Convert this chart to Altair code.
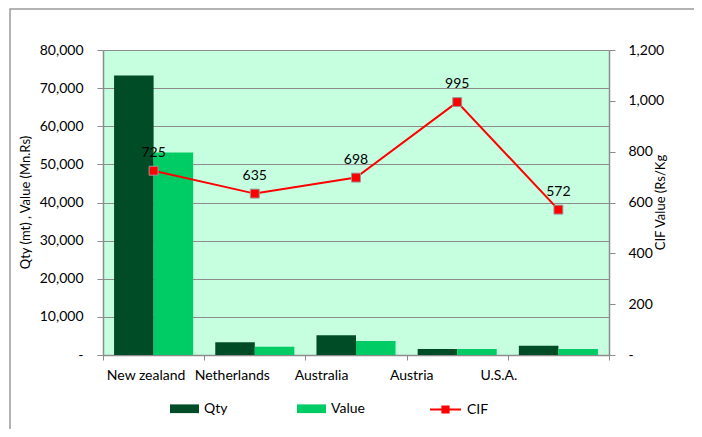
import altair as alt
import pandas as pd

countries = ["New zealand", "Netherlands", "Australia", "Austria", "U.S.A."]
qty = [73300, 3330, 5150, 1570, 2440]
value = [53100, 2180, 3660, 1570, 1570]
cif = [725, 635, 698, 995, 572]

FONT = "Lato"
GRID = "#8c8c8c"

bars_df = pd.DataFrame({
    "Country": countries * 2,
    "Series": ["Qty"] * len(countries) + ["Value"] * len(countries),
    "Amount": qty + value,
})
cif_df = pd.DataFrame({"Country": countries, "CIF": cif, "Series": ["CIF"] * len(countries)})

label_shift = [-8, -23, -35, -46, -60]
offset_cond = {
    "condition": [
        {"test": f"datum.value === '{c}'", "value": s}
        for c, s in zip(countries[1:], label_shift[1:])
    ],
    "value": label_shift[0],
}

x_enc = alt.X(
    "Country:N",
    sort=countries,
    scale=alt.Scale(paddingInner=0, paddingOuter=0),
    axis=alt.Axis(
        title=None, labelAngle=0, tickBand="extent", tickSize=5, labelPadding=8,
        labelOffset=offset_cond, domainColor=GRID, tickColor=GRID,
        labelColor="#000", labelFontSize=14, labelFont=FONT,
    ),
)

bars = alt.Chart(bars_df).mark_bar().encode(
    x=x_enc,
    xOffset=alt.XOffset("Series:N", sort=["Qty", "Value"],
                        scale=alt.Scale(paddingInner=0, paddingOuter=0.28)),
    y=alt.Y(
        "Amount:Q",
        scale=alt.Scale(domain=[0, 80000], nice=False),
        axis=alt.Axis(
            title="Qty (mt) , Value (Mn.Rs)", values=list(range(0, 80001, 10000)),
            labelExpr="datum.value == 0 ? '-\u00a0\u00a0' : format(datum.value, ',')",
            grid=True, gridColor=GRID, gridWidth=1, tickSize=6, labelPadding=14,
            domainColor=GRID, tickColor=GRID, titleAngle=270, titleX=-78, titleY=152,
            titleAlign="center", titleBaseline="middle",
        ),
    ),
    color=alt.Color(
        "Series:N",
        scale=alt.Scale(domain=["Qty", "Value"], range=["#004C27", "#00CC66"]),
        legend=alt.Legend(
            title=None, orient="none", legendX=67, legendY=344, direction="horizontal",
            symbolType="M-1,-0.3H1V0.3H-1Z", symbolSize=841, symbolStrokeWidth=0,
            labelOffset=5, columnPadding=69, labelFontSize=14, labelFont=FONT,
            padding=0,
        ),
    ),
)

line = alt.Chart(cif_df).mark_line(strokeWidth=2).encode(
    x=alt.X("Country:N", sort=countries),
    y=alt.Y(
        "CIF:Q",
        scale=alt.Scale(domain=[0, 1200], nice=False),
        axis=alt.Axis(
            orient="right", title="CIF Value (Rs/Kg", values=list(range(0, 1201, 200)),
            labelExpr="datum.value == 0 ? '-' : format(datum.value, ',')",
            grid=False, tickSize=6, labelPadding=13, domainColor=GRID, tickColor=GRID,
            titleAngle=270, titleX=51, titleY=152, titleAlign="center",
            titleBaseline="middle",
        ),
    ),
    stroke=alt.Stroke(
        "Series:N",
        scale=alt.Scale(domain=["CIF"], range=["#FF0000"]),
        legend=alt.Legend(
            title=None, orient="none", legendX=326, legendY=343,
            symbolType="M-1,0H1M-0.2,-0.2H0.2V0.2H-0.2Z", symbolSize=961,
            symbolFillColor="#FF0000", symbolStrokeWidth=2, labelOffset=5,
            labelFontSize=14, labelFont=FONT, padding=0,
        ),
    ),
)

points = alt.Chart(cif_df).mark_point(
    shape="square", filled=True, fill="#FF0000", stroke="#9a9a9a", strokeWidth=1,
    size=80, opacity=1,
).encode(
    x=alt.X("Country:N", sort=countries),
    y=alt.Y("CIF:Q"),
)

labels = alt.Chart(cif_df).mark_text(dy=-18, fontSize=14, font=FONT, color="#000").encode(
    x=alt.X("Country:N", sort=countries),
    y=alt.Y("CIF:Q"),
    text=alt.Text("CIF:Q"),
)

frame = alt.Chart(alt.Data(values=[{"a": 1}])).mark_rect(
    fill=None, stroke="#9a9a9a", strokeWidth=1.5
).encode(
    x=alt.value(-93), x2=alt.value(593), y=alt.value(-41), y2=alt.value(400),
)

cif_layer = alt.layer(line, points, labels)

chart = alt.layer(frame, bars, cif_layer).resolve_scale(
    y="independent"
).resolve_legend(color="independent", stroke="independent").properties(
    width=506, height=305,
    autosize=alt.AutoSizeParams(type="none"),
    padding={"left": 95, "top": 42, "right": 85, "bottom": 74},
    background="white",
).configure_view(
    fill="#C6FFE0", stroke=None,
).configure_axis(
    labelFont=FONT, labelFontSize=14, labelColor="#000",
    titleFont=FONT, titleFontSize=13, titleFontWeight="normal", titleColor="#000",
    domainWidth=1.5,
)

chart.save("out.html", embed_options={"renderer": "svg", "actions": False})
